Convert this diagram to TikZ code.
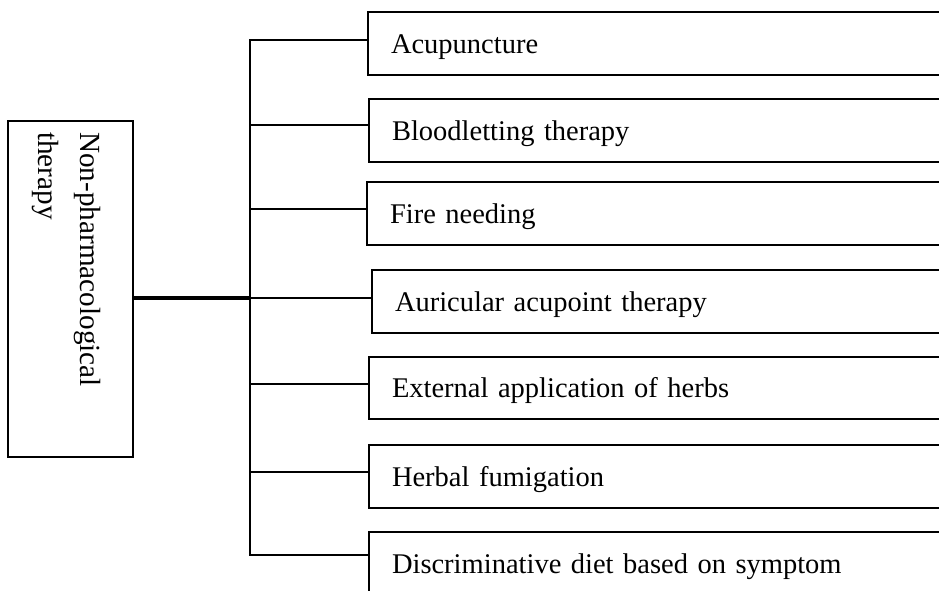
\documentclass[tikz,border=0pt]{standalone}
\usepackage{fontspec}
\setmainfont{Liberation Serif}
\begin{document}
\begin{tikzpicture}[x=1pt,y=-1pt,
  txt/.style={font=\fontsize{28.5}{41}\selectfont},
  roottxt/.style={font=\fontsize{29.2}{42}\selectfont},
  item/.style={draw, line width=2.2pt, rectangle, anchor=north west, outer sep=0pt,
    minimum width=640pt, minimum height=63pt, text width=594pt, align=left,
    inner xsep=23pt, inner ysep=0pt, text height=19.5pt, text depth=0pt, txt},
  rootbox/.style={draw, line width=2.2pt, rectangle, anchor=north west, outer sep=0pt,
    minimum width=125pt, minimum height=336pt, inner sep=0pt},
  link/.style={line width=2pt},
  trunkline/.style={line width=2.5pt, line join=miter},
  mainline/.style={line width=3.5pt},
]
\useasboundingbox (0,0) rectangle (939,591);
\clip (0,0) rectangle (939,591);

% root
\node[rootbox] (root) at (8,121) {};
\node[roottxt, rotate=-90, anchor=north west, inner sep=0pt, align=left] (rootlabel) at (100.5,132) {Non-pharmacological\\therapy};

% items
\node[item] (a1) at (368,12) {Acupuncture};
\node[item] (a2) at (369,99) {Bloodletting therapy};
\node[item] (a3) at (367,182) {Fire needing};
\node[item] (a4) at (372,270) {Auricular acupoint therapy};
\node[item, minimum height=62pt] (a5) at (369,357) {External application of herbs};
\node[item] (a6) at (369,445) {Herbal fumigation};
\node[item] (a7) at (369,532) {Discriminative diet based on symptom};

% trunk points
\coordinate (t1) at (250,40);
\coordinate (t2) at (250,125);
\coordinate (t3) at (250,209);
\coordinate (t4) at (250,298);
\coordinate (t5) at (250,384);
\coordinate (t6) at (250,472);
\coordinate (t7) at (250,555);

\draw[trunkline] (a1.west |- t1) -- (t1) -- (t7) -- (a7.west |- t7);
\draw[link] (t2) -- (a2.west |- t2);
\draw[link] (t3) -- (a3.west |- t3);
\draw[link] (t4) -- (a4.west |- t4);
\draw[link] (t5) -- (a5.west |- t5);
\draw[link] (t6) -- (a6.west |- t6);
\draw[mainline] (root.east |- t4) -- (t4);
\end{tikzpicture}
\end{document}
